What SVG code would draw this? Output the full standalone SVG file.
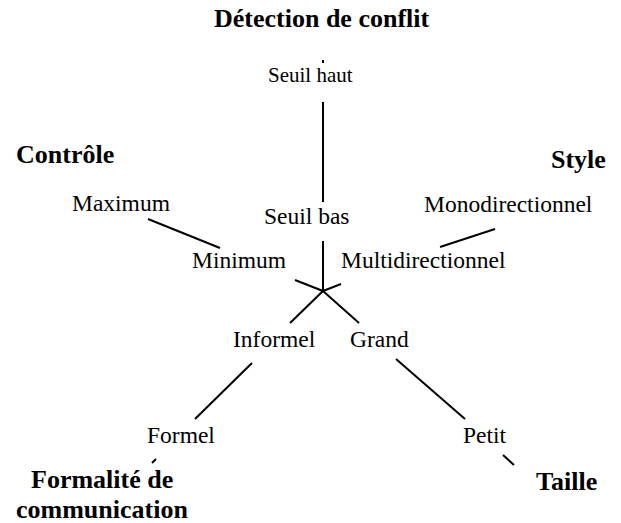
<svg xmlns="http://www.w3.org/2000/svg" width="621" height="523" viewBox="0 0 621 523">
<style>
text{font-family:'Liberation Serif','Times New Roman','DejaVu Serif',serif;fill:#000}
.t{font-size:23.5px}
.h{font-size:26px;font-weight:bold}
.c line{stroke:#000;stroke-width:2;stroke-linecap:butt}
</style>
<rect width="621" height="523" fill="#fff"/>
<g id="connectors" class="c">
<line x1="323" y1="60" x2="323" y2="63"/>
<line x1="323" y1="102" x2="323" y2="202"/>
<line x1="323" y1="241" x2="323" y2="291"/>
<line x1="148" y1="219" x2="220" y2="248"/>
<line x1="295" y1="280" x2="323" y2="291"/>
<line x1="495" y1="229" x2="440" y2="247"/>
<line x1="341" y1="284" x2="323" y2="291"/>
<line x1="323" y1="291" x2="290" y2="323"/>
<line x1="323" y1="291" x2="359" y2="323"/>
<line x1="252" y1="363" x2="195" y2="419"/>
<line x1="396" y1="359" x2="465" y2="419"/>
<line x1="152" y1="463" x2="156" y2="459"/>
<line x1="503" y1="455" x2="514" y2="465"/>
</g>
<g id="detection"><text class="h" x="214" y="27" font-family="Liberation Serif, serif">Détection de conflit</text></g>
<g id="seuil-haut"><text class="t" x="268" y="82" font-family="Liberation Serif, serif" style="font-size:21px">Seuil haut</text></g>
<g id="seuil-bas"><text class="t" x="264" y="224" font-family="Liberation Serif, serif">Seuil bas</text></g>
<g id="controle"><text class="h" x="16" y="163" font-family="Liberation Serif, serif">Contrôle</text></g>
<g id="maximum"><text class="t" x="72" y="211" font-family="Liberation Serif, serif">Maximum</text></g>
<g id="minimum"><text class="t" x="192" y="268" font-family="Liberation Serif, serif">Minimum</text></g>
<g id="style"><text class="h" x="551" y="168" font-family="Liberation Serif, serif">Style</text></g>
<g id="monodirectionnel"><text class="t" x="424" y="212" font-family="Liberation Serif, serif">Monodirectionnel</text></g>
<g id="multidirectionnel"><text class="t" x="341" y="268" font-family="Liberation Serif, serif">Multidirectionnel</text></g>
<g id="informel"><text class="t" x="233" y="347" font-family="Liberation Serif, serif">Informel</text></g>
<g id="grand"><text class="t" x="350" y="347" font-family="Liberation Serif, serif">Grand</text></g>
<g id="formel"><text class="t" x="147" y="443" font-family="Liberation Serif, serif">Formel</text></g>
<g id="petit"><text class="t" x="463" y="443" font-family="Liberation Serif, serif">Petit</text></g>
<g id="formalite"><text class="h" x="31" y="488" font-family="Liberation Serif, serif">Formalité de</text><text class="h" x="16" y="518" font-family="Liberation Serif, serif">communication</text></g>
<g id="taille"><text class="h" x="536" y="490" font-family="Liberation Serif, serif">Taille</text></g>
</svg>
